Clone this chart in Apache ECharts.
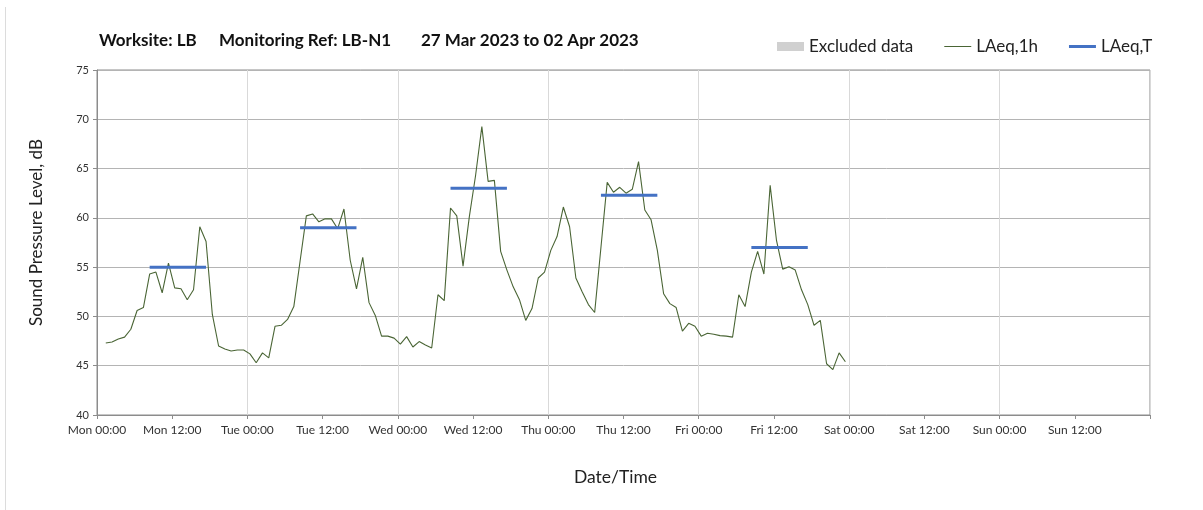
<!DOCTYPE html>
<html>
<head>
<meta charset="utf-8">
<script src="https://cdn.jsdelivr.net/npm/echarts@6/dist/echarts.min.js"></script>
<style>
html, body { margin: 0; padding: 0; background: #fff; }
#chart { width: 1203px; height: 510px; }
</style>
</head>
<body>
<div id="chart"></div>
<script>
// tick labels every 12 h from Mon 00:00
const tickLabels = ['Mon 00:00', 'Mon 12:00', 'Tue 00:00', 'Tue 12:00', 'Wed 00:00', 'Wed 12:00',
  'Thu 00:00', 'Thu 12:00', 'Fri 00:00', 'Fri 12:00', 'Sat 00:00', 'Sat 12:00', 'Sun 00:00', 'Sun 12:00'];

// hourly LAeq,1h, first value at hour 1
const laeq1h = [
  47.3, 47.4, 47.7, 47.9, 48.7, 50.6, 50.9, 54.3, 54.5, 52.4, 55.4, 52.9, 52.8, 51.7, 52.7, 59.1,
  57.6, 50.2, 47.0, 46.7, 46.5, 46.6, 46.6, 46.2, 45.3, 46.3, 45.8, 49.0, 49.1, 49.7, 51.0, 55.6,
  60.2, 60.4, 59.6, 59.9, 59.9, 58.9, 60.9, 55.7, 52.8, 56.0, 51.4, 50.1, 48.0, 48.0, 47.8, 47.2,
  47.95, 46.9, 47.45, 47.1, 46.8, 52.2, 51.6, 61.0, 60.2, 55.1, 60.1, 64.3, 69.25, 63.7, 63.8, 56.6,
  54.7, 53.0, 51.7, 49.6, 50.8, 53.9, 54.5, 56.7, 58.1, 61.1, 59.1, 53.9, 52.5, 51.2, 50.4, 57.0,
  63.6, 62.6, 63.1, 62.5, 62.9, 65.7, 60.8, 59.8, 56.7, 52.3, 51.3, 50.9, 48.5, 49.3, 49.0, 48.0,
  48.3, 48.2, 48.05, 48.0, 47.9, 52.2, 51.0, 54.5, 56.6, 54.3, 63.3, 57.75, 54.8, 55.05, 54.7, 52.7,
  51.2, 49.1, 49.6, 45.2, 44.6, 46.3, 45.4
];

// daytime LAeq,T periods (hour index of first / last hourly value)
const laeqTStart = [8, 32, 56, 80, 104];
const laeqTEnd = [17, 41, 65, 89, 113];
const laeqTLevel = [55.0, 59.0, 63.0, 62.3, 57.0];

const firstHour = 1;
const stampOffset = 0.4;

const hourlyData = laeq1h.map((v, i) => [firstHour + i + stampOffset, v]);
const periodData = [];
laeqTLevel.forEach((lvl, i) => {
  if (i > 0) periodData.push(null);
  periodData.push([laeqTStart[i] + stampOffset, lvl]);
  periodData.push([laeqTEnd[i] + stampOffset, lvl]);
});

// legend line icons: a bar across the middle, corners keep the 27x9 box
const thinLine = 'path://M0,0h0.01v0.01h-0.01z M0,4h27v1h-27z M26.99,9h0.01v0.01h-0.01z';
const thickLine = 'path://M0,0h0.01v0.01h-0.01z M0,3h27v3h-27z M26.99,9h0.01v0.01h-0.01z';

const font = 'Lato, "Open Sans", sans-serif';

const chart = echarts.init(document.getElementById('chart'));
chart.setOption({
  animation: false,
  textStyle: { fontFamily: font },
  title: [
    { text: 'Worksite: LB', left: 94, top: 27 },
    { text: 'Monitoring Ref: LB-N1', left: 214, top: 27 },
    { text: '27 Mar 2023 to 02 Apr 2023', left: 416, top: 27 }
  ].map(t => Object.assign(t, {
    textStyle: { fontFamily: font, fontSize: 17, fontWeight: 'bold', color: '#111' }
  })),
  legend: {
    left: 772,
    top: 33,
    itemGap: 31,
    itemWidth: 27,
    itemHeight: 9,
    textStyle: { fontFamily: font, fontSize: 17, color: '#222' },
    data: [
      { name: 'Excluded data', icon: 'rect' },
      { name: 'LAeq,1h', icon: thinLine },
      { name: 'LAeq,T', icon: thickLine }
    ]
  },
  grid: {
    left: 97,
    right: 53,
    top: 70,
    bottom: 95,
    show: true,
    borderColor: '#8c8c8c',
    borderWidth: 1
  },
  xAxis: [
    {
      type: 'value',
      min: 0,
      max: 168,
      interval: 12,
      name: 'Date/Time',
      nameLocation: 'middle',
      nameGap: 53,
      nameTextStyle: { fontFamily: font, fontSize: 17.5, color: '#222', padding: [0, 16, 0, 0] },
      axisLine: { lineStyle: { color: '#8c8c8c' } },
      axisTick: { show: true, length: 4, lineStyle: { color: '#8c8c8c' } },
      splitLine: { show: false },
      axisLabel: {
        fontFamily: font,
        fontSize: 12,
        color: '#333',
        margin: 9,
        formatter: v => tickLabels[Math.round(v / 12)] || ''
      }
    },
    {
      type: 'value',
      min: 0,
      max: 168,
      interval: 24,
      position: 'bottom',
      axisLine: { show: false },
      axisTick: { show: false },
      axisLabel: { show: false },
      splitLine: { show: true, lineStyle: { color: '#d9d9d9' } }
    }
  ],
  yAxis: {
    type: 'value',
    min: 40,
    max: 75,
    interval: 5,
    name: 'Sound Pressure Level, dB',
    nameLocation: 'middle',
    nameGap: 52,
    nameTextStyle: { fontFamily: font, fontSize: 17, color: '#222', padding: [0, 0, 0, 20] },
    axisLine: { show: true, lineStyle: { color: '#8c8c8c' } },
    axisTick: { show: true, length: 4, lineStyle: { color: '#8c8c8c' } },
    axisLabel: { fontFamily: font, fontSize: 11, color: '#333', margin: 8 },
    splitLine: { show: true, lineStyle: { color: '#b4b4b4' } }
  },
  series: [
    {
      name: 'Excluded data',
      type: 'bar',
      itemStyle: { color: '#d0d0d0' },
      data: []
    },
    {
      name: 'LAeq,1h',
      type: 'line',
      symbol: 'none',
      color: '#4a6535',
      lineStyle: { width: 1.1, color: '#4a6535' },
      data: hourlyData
    },
    {
      name: 'LAeq,T',
      type: 'line',
      symbol: 'none',
      color: '#4472c4',
      lineStyle: { width: 3, color: '#4472c4' },
      connectNulls: false,
      data: periodData
    }
  ],
  graphic: [
    {
      type: 'line',
      shape: { x1: 5.5, y1: 7, x2: 5.5, y2: 510 },
      style: { stroke: '#dcdcdc', lineWidth: 1 }
    }
  ]
});
</script>
</body>
</html>
